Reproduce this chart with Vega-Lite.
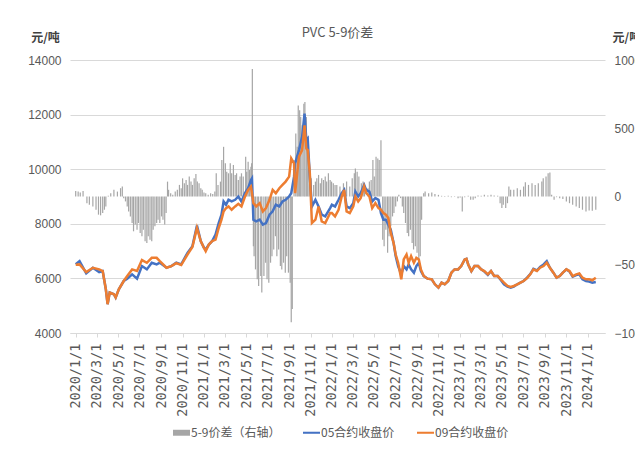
{
  "$schema": "https://vega.github.io/schema/vega-lite/v6.json",
  "width": 535,
  "height": 273,
  "autosize": "none",
  "padding": {"left": 70, "top": 60, "right": 30, "bottom": 126},
  "background": "#ffffff",
  "title": {"text": "PVC 5-9价差", "font": "Noto Sans CJK SC", "fontSize": 13, "fontWeight": "normal", "color": "#595959", "anchor": "middle", "offset": -9},
  "config": {
    "view": {"stroke": null},
    "axis": {"labelColor": "#595959", "gridColor": "#d9d9d9", "domainColor": "#d9d9d9", "tickColor": "#d9d9d9"},
    "axisX": {"labelOverlap": false},
    "axisTemporal": {"labelOverlap": false}
  },
  "encoding": {
    "x": {
      "field": "d", "type": "temporal",
      "scale": {"type": "utc", "domain": [{"year": 2019, "month": 12, "date": 30, "utc": true}, {"year": 2024, "month": 2, "date": 5, "utc": true}]},
      "axis": {
        "title": null, "format": "%Y/%-m/%-d", "labelAngle": 270, "labelFont": "DejaVu Sans Mono", "labelFontSize": 13.5,
        "labelColor": "#595959", "labelPadding": 6, "tickSize": 4, "grid": false, "labelOverlap": false, "labelFlush": false, "labelBound": false,
        "values": [
          {"year": 2020, "month": 1, "date": 1, "utc": true}, {"year": 2020, "month": 3, "date": 1, "utc": true},
          {"year": 2020, "month": 5, "date": 1, "utc": true}, {"year": 2020, "month": 7, "date": 1, "utc": true},
          {"year": 2020, "month": 9, "date": 1, "utc": true}, {"year": 2020, "month": 11, "date": 1, "utc": true},
          {"year": 2021, "month": 1, "date": 1, "utc": true}, {"year": 2021, "month": 3, "date": 1, "utc": true},
          {"year": 2021, "month": 5, "date": 1, "utc": true}, {"year": 2021, "month": 7, "date": 1, "utc": true},
          {"year": 2021, "month": 9, "date": 1, "utc": true}, {"year": 2021, "month": 11, "date": 1, "utc": true},
          {"year": 2022, "month": 1, "date": 1, "utc": true}, {"year": 2022, "month": 3, "date": 1, "utc": true},
          {"year": 2022, "month": 5, "date": 1, "utc": true}, {"year": 2022, "month": 7, "date": 1, "utc": true},
          {"year": 2022, "month": 9, "date": 1, "utc": true}, {"year": 2022, "month": 11, "date": 1, "utc": true},
          {"year": 2023, "month": 1, "date": 1, "utc": true}, {"year": 2023, "month": 3, "date": 1, "utc": true},
          {"year": 2023, "month": 5, "date": 1, "utc": true}, {"year": 2023, "month": 7, "date": 1, "utc": true},
          {"year": 2023, "month": 9, "date": 1, "utc": true}, {"year": 2023, "month": 11, "date": 1, "utc": true},
          {"year": 2024, "month": 1, "date": 1, "utc": true}
        ]
      }
    }
  },
  "datasets": {
    "spread": [
      {"d": "2020-01-01", "s": 40}, {"d": "2020-01-08", "s": 36}, {"d": "2020-01-14", "s": 29}, {"d": "2020-01-22", "s": 40},
      {"d": "2020-02-02", "s": -49}, {"d": "2020-02-09", "s": -61}, {"d": "2020-02-19", "s": -73}, {"d": "2020-02-28", "s": -97},
      {"d": "2020-03-06", "s": -133}, {"d": "2020-03-12", "s": -138}, {"d": "2020-03-18", "s": -121}, {"d": "2020-03-23", "s": -97},
      {"d": "2020-03-27", "s": -73}, {"d": "2020-04-03", "s": 5}, {"d": "2020-04-10", "s": 24}, {"d": "2020-04-19", "s": 49},
      {"d": "2020-04-29", "s": 36}, {"d": "2020-05-08", "s": 61}, {"d": "2020-05-13", "s": 73}, {"d": "2020-05-17", "s": -12},
      {"d": "2020-05-22", "s": -36}, {"d": "2020-05-27", "s": -73}, {"d": "2020-05-31", "s": -110}, {"d": "2020-06-05", "s": -146},
      {"d": "2020-06-10", "s": -194}, {"d": "2020-06-14", "s": -255}, {"d": "2020-06-19", "s": -206}, {"d": "2020-06-24", "s": -243},
      {"d": "2020-06-28", "s": -194}, {"d": "2020-07-03", "s": -267}, {"d": "2020-07-08", "s": -291}, {"d": "2020-07-12", "s": -243},
      {"d": "2020-07-17", "s": -328}, {"d": "2020-07-22", "s": -340}, {"d": "2020-07-26", "s": -291}, {"d": "2020-07-31", "s": -316},
      {"d": "2020-08-05", "s": -328}, {"d": "2020-08-09", "s": -243}, {"d": "2020-08-14", "s": -218}, {"d": "2020-08-19", "s": -194},
      {"d": "2020-08-23", "s": -170}, {"d": "2020-08-28", "s": -194}, {"d": "2020-09-02", "s": -146}, {"d": "2020-09-06", "s": -170},
      {"d": "2020-09-11", "s": -206}, {"d": "2020-09-15", "s": -121}, {"d": "2020-09-19", "s": 109}, {"d": "2020-09-22", "s": 49},
      {"d": "2020-09-28", "s": 24}, {"d": "2020-10-04", "s": 12}, {"d": "2020-10-11", "s": 36}, {"d": "2020-10-17", "s": 49},
      {"d": "2020-10-23", "s": 85}, {"d": "2020-10-28", "s": 61}, {"d": "2020-11-01", "s": 133}, {"d": "2020-11-06", "s": 97},
      {"d": "2020-11-11", "s": 121}, {"d": "2020-11-15", "s": 85}, {"d": "2020-11-20", "s": 146}, {"d": "2020-11-25", "s": 109},
      {"d": "2020-11-29", "s": 85}, {"d": "2020-12-04", "s": 133}, {"d": "2020-12-09", "s": 165}, {"d": "2020-12-13", "s": 109},
      {"d": "2020-12-18", "s": 97}, {"d": "2020-12-23", "s": 61}, {"d": "2020-12-27", "s": 49}, {"d": "2021-01-01", "s": 29},
      {"d": "2021-01-06", "s": 24}, {"d": "2021-01-13", "s": 12}, {"d": "2021-01-20", "s": 24}, {"d": "2021-01-26", "s": 19},
      {"d": "2021-02-01", "s": 36}, {"d": "2021-02-05", "s": 170}, {"d": "2021-02-10", "s": 85}, {"d": "2021-02-17", "s": 109},
      {"d": "2021-02-21", "s": 267}, {"d": "2021-02-26", "s": 364}, {"d": "2021-03-03", "s": 243}, {"d": "2021-03-07", "s": 182},
      {"d": "2021-03-12", "s": 170}, {"d": "2021-03-17", "s": 243}, {"d": "2021-03-21", "s": 170}, {"d": "2021-03-26", "s": 231},
      {"d": "2021-03-31", "s": 158}, {"d": "2021-04-04", "s": 170}, {"d": "2021-04-09", "s": 121}, {"d": "2021-04-14", "s": 146},
      {"d": "2021-04-18", "s": 170}, {"d": "2021-04-23", "s": 146}, {"d": "2021-04-30", "s": 291}, {"d": "2021-05-03", "s": 182},
      {"d": "2021-05-07", "s": 255}, {"d": "2021-05-11", "s": 194}, {"d": "2021-05-15", "s": 218}, {"d": "2021-05-17", "s": 243},
      {"d": "2021-05-19", "s": 934}, {"d": "2021-05-22", "s": -364}, {"d": "2021-05-24", "s": -437}, {"d": "2021-05-28", "s": -534},
      {"d": "2021-06-02", "s": -607}, {"d": "2021-06-06", "s": -655}, {"d": "2021-06-12", "s": -582}, {"d": "2021-06-15", "s": -704},
      {"d": "2021-06-21", "s": -582}, {"d": "2021-06-26", "s": -485}, {"d": "2021-06-30", "s": -607}, {"d": "2021-07-05", "s": -631},
      {"d": "2021-07-10", "s": -485}, {"d": "2021-07-14", "s": -437}, {"d": "2021-07-19", "s": -388}, {"d": "2021-07-24", "s": -291},
      {"d": "2021-07-28", "s": -437}, {"d": "2021-08-02", "s": -388}, {"d": "2021-08-07", "s": -510}, {"d": "2021-08-11", "s": -534},
      {"d": "2021-08-16", "s": -485}, {"d": "2021-08-21", "s": -558}, {"d": "2021-08-25", "s": -437}, {"d": "2021-08-30", "s": -558},
      {"d": "2021-09-04", "s": -631}, {"d": "2021-09-07", "s": -922}, {"d": "2021-09-10", "s": -825}, {"d": "2021-09-15", "s": 267},
      {"d": "2021-09-20", "s": 461}, {"d": "2021-09-24", "s": 364}, {"d": "2021-09-27", "s": 667}, {"d": "2021-10-01", "s": 631},
      {"d": "2021-10-04", "s": 582}, {"d": "2021-10-08", "s": 522}, {"d": "2021-10-13", "s": 680}, {"d": "2021-10-16", "s": 692},
      {"d": "2021-10-20", "s": 582}, {"d": "2021-10-24", "s": 388}, {"d": "2021-10-28", "s": 194}, {"d": "2021-11-03", "s": 133},
      {"d": "2021-11-10", "s": 85}, {"d": "2021-11-15", "s": 109}, {"d": "2021-11-19", "s": 133}, {"d": "2021-11-24", "s": 158},
      {"d": "2021-11-29", "s": 97}, {"d": "2021-12-03", "s": 133}, {"d": "2021-12-08", "s": 121}, {"d": "2021-12-13", "s": 146},
      {"d": "2021-12-17", "s": 109}, {"d": "2021-12-22", "s": 170}, {"d": "2021-12-27", "s": 121}, {"d": "2021-12-31", "s": 109},
      {"d": "2022-01-05", "s": 97}, {"d": "2022-01-10", "s": 85}, {"d": "2022-01-15", "s": 85}, {"d": "2022-01-24", "s": 73},
      {"d": "2022-02-03", "s": 97}, {"d": "2022-02-12", "s": 109}, {"d": "2022-02-21", "s": 73}, {"d": "2022-02-28", "s": 133},
      {"d": "2022-03-06", "s": 170}, {"d": "2022-03-09", "s": 206}, {"d": "2022-03-14", "s": 182}, {"d": "2022-03-19", "s": 146},
      {"d": "2022-03-26", "s": 97}, {"d": "2022-03-31", "s": 109}, {"d": "2022-04-04", "s": 97}, {"d": "2022-04-14", "s": 61},
      {"d": "2022-04-18", "s": 109}, {"d": "2022-04-23", "s": 121}, {"d": "2022-04-28", "s": 267}, {"d": "2022-05-02", "s": 146},
      {"d": "2022-05-07", "s": 291}, {"d": "2022-05-12", "s": 279}, {"d": "2022-05-16", "s": 267}, {"d": "2022-05-21", "s": 413},
      {"d": "2022-05-26", "s": -316}, {"d": "2022-05-30", "s": -364}, {"d": "2022-06-04", "s": -243}, {"d": "2022-06-09", "s": -413},
      {"d": "2022-06-13", "s": -291}, {"d": "2022-06-18", "s": -218}, {"d": "2022-06-23", "s": -146}, {"d": "2022-06-27", "s": -121},
      {"d": "2022-07-02", "s": -73}, {"d": "2022-07-07", "s": -36}, {"d": "2022-07-11", "s": 12}, {"d": "2022-07-16", "s": -12},
      {"d": "2022-07-21", "s": -73}, {"d": "2022-07-25", "s": -121}, {"d": "2022-07-30", "s": -194}, {"d": "2022-08-04", "s": -267},
      {"d": "2022-08-08", "s": -291}, {"d": "2022-08-13", "s": -243}, {"d": "2022-08-18", "s": -340}, {"d": "2022-08-22", "s": -388},
      {"d": "2022-08-27", "s": -364}, {"d": "2022-09-01", "s": -413}, {"d": "2022-09-06", "s": -485}, {"d": "2022-09-10", "s": -437},
      {"d": "2022-09-14", "s": -170}, {"d": "2022-09-20", "s": 24}, {"d": "2022-09-24", "s": 36}, {"d": "2022-10-04", "s": 24},
      {"d": "2022-10-13", "s": 29}, {"d": "2022-10-22", "s": 19}, {"d": "2022-11-01", "s": 12}, {"d": "2022-11-10", "s": 5},
      {"d": "2022-11-19", "s": 3}, {"d": "2022-11-29", "s": 5}, {"d": "2022-12-08", "s": -5}, {"d": "2022-12-17", "s": -3},
      {"d": "2022-12-27", "s": -12}, {"d": "2023-01-02", "s": -8}, {"d": "2023-01-08", "s": -109}, {"d": "2023-01-15", "s": -5},
      {"d": "2023-01-25", "s": 5}, {"d": "2023-02-01", "s": -24}, {"d": "2023-02-08", "s": -24}, {"d": "2023-02-14", "s": -12},
      {"d": "2023-02-22", "s": 7}, {"d": "2023-03-03", "s": 5}, {"d": "2023-03-12", "s": 12}, {"d": "2023-03-22", "s": 7},
      {"d": "2023-03-31", "s": 12}, {"d": "2023-04-09", "s": 7}, {"d": "2023-04-19", "s": 5}, {"d": "2023-04-26", "s": -49},
      {"d": "2023-05-01", "s": -85}, {"d": "2023-05-05", "s": -61}, {"d": "2023-05-12", "s": -85}, {"d": "2023-05-17", "s": -49},
      {"d": "2023-05-21", "s": 73}, {"d": "2023-05-26", "s": 49}, {"d": "2023-06-04", "s": 49}, {"d": "2023-06-14", "s": 61},
      {"d": "2023-06-23", "s": 49}, {"d": "2023-07-02", "s": 73}, {"d": "2023-07-07", "s": 104}, {"d": "2023-07-16", "s": 85},
      {"d": "2023-07-26", "s": 97}, {"d": "2023-08-04", "s": 85}, {"d": "2023-08-13", "s": 97}, {"d": "2023-08-23", "s": 109},
      {"d": "2023-08-27", "s": 133}, {"d": "2023-09-04", "s": 146}, {"d": "2023-09-10", "s": 170}, {"d": "2023-09-15", "s": 175},
      {"d": "2023-09-20", "s": 12}, {"d": "2023-09-27", "s": -24}, {"d": "2023-10-04", "s": -5}, {"d": "2023-10-13", "s": -12},
      {"d": "2023-10-22", "s": -19}, {"d": "2023-11-01", "s": -36}, {"d": "2023-11-10", "s": -49}, {"d": "2023-11-19", "s": -61},
      {"d": "2023-11-29", "s": -73}, {"d": "2023-12-08", "s": -85}, {"d": "2023-12-17", "s": -97}, {"d": "2023-12-27", "s": -109},
      {"d": "2024-01-05", "s": -102}, {"d": "2024-01-14", "s": -104}, {"d": "2024-01-24", "s": -97}
    ],
    "prices": [
      {"d": "2020-01-01", "05合约收盘价": 6520, "09合约收盘价": 6500},
      {"d": "2020-01-12", "05合约收盘价": 6633, "09合约收盘价": 6512},
      {"d": "2020-01-31", "05合约收盘价": 6184, "09合约收盘价": 6233},
      {"d": "2020-02-19", "05合约收盘价": 6391, "09合约收盘价": 6391},
      {"d": "2020-03-08", "05合约收盘价": 6233, "09合约收盘价": 6330},
      {"d": "2020-03-18", "05合约收盘价": 6269, "09合约收盘价": 6269},
      {"d": "2020-03-27", "05合约收盘价": 5602, "09合约收盘价": 5602},
      {"d": "2020-04-01", "05合约收盘价": 5056, "09合约收盘价": 5056},
      {"d": "2020-04-07", "05合约收盘价": 5481, "09合约收盘价": 5481},
      {"d": "2020-04-19", "05合约收盘价": 5420, "09合约收盘价": 5420},
      {"d": "2020-04-24", "05合约收盘价": 5299, "09合约收盘价": 5299},
      {"d": "2020-05-03", "05合约收盘价": 5602, "09合约收盘价": 5602},
      {"d": "2020-05-17", "05合约收盘价": 5905, "09合约收盘价": 5905},
      {"d": "2020-05-27", "05合约收盘价": 5990, "09合约收盘价": 6087},
      {"d": "2020-06-10", "05合约收盘价": 6148, "09合约收盘价": 6330},
      {"d": "2020-06-24", "05合约收盘价": 5990, "09合约收盘价": 6269},
      {"d": "2020-07-08", "05合约收盘价": 6451, "09合约收盘价": 6670},
      {"d": "2020-07-22", "05合约收盘价": 6330, "09合约收盘价": 6573},
      {"d": "2020-08-05", "05合约收盘价": 6573, "09合约收盘价": 6755},
      {"d": "2020-08-19", "05合约收盘价": 6512, "09合约收盘价": 6755},
      {"d": "2020-08-28", "05合约收盘价": 6573, "09合约收盘价": 6633},
      {"d": "2020-09-16", "05合约收盘价": 6391, "09合约收盘价": 6391},
      {"d": "2020-09-30", "05合约收盘价": 6451, "09合约收盘价": 6451},
      {"d": "2020-10-14", "05合约收盘价": 6573, "09合约收盘价": 6560},
      {"d": "2020-10-28", "05合约收盘价": 6512, "09合约收盘价": 6490},
      {"d": "2020-11-15", "05合约收盘价": 6937, "09合约收盘价": 6876},
      {"d": "2020-11-29", "05合约收盘价": 7180, "09合约收盘价": 7150},
      {"d": "2020-12-12", "05合约收盘价": 7940, "09合约收盘价": 7847},
      {"d": "2020-12-23", "05合约收盘价": 7360, "09合约收盘价": 7360},
      {"d": "2021-01-01", "05合约收盘价": 7119, "09合约收盘价": 7119},
      {"d": "2021-01-06", "05合约收盘价": 7058, "09合约收盘价": 6998},
      {"d": "2021-01-15", "05合约收盘价": 7240, "09合约收盘价": 7240},
      {"d": "2021-01-24", "05合约收盘价": 7362, "09合约收盘价": 7362},
      {"d": "2021-02-03", "05合约收盘价": 7604, "09合约收盘价": 7422},
      {"d": "2021-02-12", "05合约收盘价": 8029, "09合约收盘价": 7847},
      {"d": "2021-02-20", "05合约收盘价": 8333, "09合约收盘价": 8150},
      {"d": "2021-02-26", "05合约收盘价": 8818, "09合约收盘价": 8454},
      {"d": "2021-03-05", "05合约收盘价": 8697, "09合约收盘价": 8575},
      {"d": "2021-03-12", "05合约收盘价": 8879, "09合约收盘价": 8636},
      {"d": "2021-03-21", "05合约收盘价": 8818, "09合约收盘价": 8515},
      {"d": "2021-03-31", "05合约收盘价": 8879, "09合约收盘价": 8636},
      {"d": "2021-04-09", "05合约收盘价": 9000, "09合约收盘价": 8733},
      {"d": "2021-04-18", "05合约收盘价": 8818, "09合约收盘价": 8636},
      {"d": "2021-04-28", "05合约收盘价": 9121, "09合约收盘价": 9000},
      {"d": "2021-05-07", "05合约收盘价": 9303, "09合约收盘价": 9243},
      {"d": "2021-05-15", "05合约收盘价": 9607, "09合约收盘价": 9364},
      {"d": "2021-05-18", "05合约收盘价": 9667, "09合约收盘价": 9121},
      {"d": "2021-05-22", "05合约收盘价": 8150, "09合约收盘价": 8757},
      {"d": "2021-05-30", "05合约收盘价": 8090, "09合约收盘价": 8636},
      {"d": "2021-06-09", "05合约收盘价": 8150, "09合约收盘价": 8757},
      {"d": "2021-06-18", "05合约收盘价": 7968, "09合约收盘价": 8454},
      {"d": "2021-06-27", "05合约收盘价": 8029, "09合约收盘价": 8575},
      {"d": "2021-07-07", "05合约收盘价": 8333, "09合约收盘价": 8879},
      {"d": "2021-07-16", "05合约收盘价": 8454, "09合约收盘价": 9243},
      {"d": "2021-07-25", "05合约收盘价": 8697, "09合约收盘价": 9121},
      {"d": "2021-08-04", "05合约收盘价": 8636, "09合约收盘价": 9303},
      {"d": "2021-08-13", "05合约收盘价": 8818, "09合约收盘价": 9425},
      {"d": "2021-08-22", "05合约收盘价": 8879, "09合约收盘价": 9546},
      {"d": "2021-09-01", "05合约收盘价": 9000, "09合约收盘价": 9728},
      {"d": "2021-09-07", "05合约收盘价": 9121, "09合约收盘价": 10396},
      {"d": "2021-09-15", "05合约收盘价": 9728, "09合约收盘价": 10214},
      {"d": "2021-09-18", "05合约收盘价": 10214, "09合约收盘价": 9121},
      {"d": "2021-09-29", "05合约收盘价": 10699, "09合约收盘价": 10456},
      {"d": "2021-10-08", "05合约收盘价": 11184, "09合约收盘价": 10699},
      {"d": "2021-10-15", "05合约收盘价": 12034, "09合约收盘价": 11609},
      {"d": "2021-10-20", "05合约收盘价": 11063, "09合约收盘价": 10760},
      {"d": "2021-10-24", "05合约收盘价": 11124, "09合约收盘价": 10699},
      {"d": "2021-10-30", "05合约收盘价": 9728, "09合约收盘价": 9850},
      {"d": "2021-11-05", "05合约收盘价": 8636, "09合约收盘价": 8029},
      {"d": "2021-11-15", "05合约收盘价": 8879, "09合约收盘价": 8150},
      {"d": "2021-11-24", "05合约收盘价": 8636, "09合约收盘价": 8636},
      {"d": "2021-12-03", "05合约收盘价": 8333, "09合约收盘价": 8090},
      {"d": "2021-12-13", "05合约收盘价": 8272, "09合约收盘价": 8029},
      {"d": "2021-12-27", "05合约收盘价": 8575, "09合约收盘价": 8393},
      {"d": "2022-01-01", "05合约收盘价": 8697, "09合约收盘价": 8393},
      {"d": "2022-01-10", "05合约收盘价": 8636, "09合约收盘价": 8272},
      {"d": "2022-01-20", "05合约收盘价": 8879, "09合约收盘价": 8515},
      {"d": "2022-01-29", "05合约收盘价": 9121, "09合约收盘价": 9000},
      {"d": "2022-02-05", "05合约收盘价": 9243, "09合约收盘价": 9243},
      {"d": "2022-02-12", "05合约收盘价": 8636, "09合约收盘价": 8454},
      {"d": "2022-02-21", "05合约收盘价": 8575, "09合约收盘价": 8393},
      {"d": "2022-03-03", "05合约收盘价": 8757, "09合约收盘价": 8636},
      {"d": "2022-03-09", "05合约收盘价": 9182, "09合约收盘价": 9000},
      {"d": "2022-03-17", "05合约收盘价": 9000, "09合约收盘价": 8818},
      {"d": "2022-03-24", "05合约收盘价": 9121, "09合约收盘价": 8939},
      {"d": "2022-04-03", "05合约收盘价": 9425, "09合约收盘价": 9364},
      {"d": "2022-04-09", "05合约收盘价": 9243, "09合约收盘价": 9121},
      {"d": "2022-04-18", "05合约收盘价": 9182, "09合约收盘价": 9000},
      {"d": "2022-04-26", "05合约收盘价": 8818, "09合约收盘价": 8575},
      {"d": "2022-05-05", "05合约收盘价": 8939, "09合约收盘价": 8757},
      {"d": "2022-05-14", "05合约收盘价": 8879, "09合约收盘价": 8575},
      {"d": "2022-05-21", "05合约收盘价": 8393, "09合约收盘价": 8515},
      {"d": "2022-05-28", "05合约收盘价": 8150, "09合约收盘价": 8393},
      {"d": "2022-06-04", "05合约收盘价": 8150, "09合约收盘价": 8333},
      {"d": "2022-06-11", "05合约收盘价": 7968, "09合约收盘价": 8211},
      {"d": "2022-06-18", "05合约收盘价": 7786, "09合约收盘价": 7665},
      {"d": "2022-06-26", "05合约收盘价": 7301, "09合约收盘价": 7301},
      {"d": "2022-07-02", "05合约收盘价": 6816, "09合约收盘价": 6876},
      {"d": "2022-07-09", "05合约收盘价": 6451, "09合约收盘价": 6573},
      {"d": "2022-07-18", "05合约收盘价": 6148, "09合约收盘价": 5966},
      {"d": "2022-07-25", "05合约收盘价": 6451, "09合约收盘价": 6694},
      {"d": "2022-08-02", "05合约收盘价": 6330, "09合约收盘价": 6876},
      {"d": "2022-08-08", "05合约收盘价": 6512, "09合约收盘价": 6573},
      {"d": "2022-08-15", "05合约收盘价": 6330, "09合约收盘价": 6816},
      {"d": "2022-08-23", "05合约收盘价": 6209, "09合约收盘价": 6573},
      {"d": "2022-08-30", "05合约收盘价": 6451, "09合约收盘价": 6755},
      {"d": "2022-09-06", "05合约收盘价": 6573, "09合约收盘价": 6694},
      {"d": "2022-09-12", "05合约收盘价": 6269, "09合约收盘价": 6330},
      {"d": "2022-09-20", "05合约收盘价": 6087, "09合约收盘价": 6087},
      {"d": "2022-10-01", "05合约收盘价": 5990, "09合约收盘价": 5990},
      {"d": "2022-10-13", "05合约收盘价": 5966, "09合约收盘价": 5966},
      {"d": "2022-10-22", "05合约收盘价": 5784, "09合约收盘价": 5784},
      {"d": "2022-11-01", "05合约收盘价": 5662, "09合约收盘价": 5662},
      {"d": "2022-11-10", "05合约收盘价": 5845, "09合约收盘价": 5845},
      {"d": "2022-11-19", "05合约收盘价": 5784, "09合约收盘价": 5784},
      {"d": "2022-11-29", "05合约收盘价": 5905, "09合约收盘价": 5905},
      {"d": "2022-12-08", "05合约收盘价": 6209, "09合约收盘价": 6209},
      {"d": "2022-12-17", "05合约收盘价": 6330, "09合约收盘价": 6330},
      {"d": "2022-12-27", "05合约收盘价": 6330, "09合约收盘价": 6330},
      {"d": "2023-01-05", "05合约收盘价": 6451, "09合约收盘价": 6451},
      {"d": "2023-01-15", "05合约收盘价": 6694, "09合约收盘价": 6694},
      {"d": "2023-01-20", "05合约收盘价": 6718, "09合约收盘价": 6718},
      {"d": "2023-01-25", "05合约收盘价": 6512, "09合约收盘价": 6512},
      {"d": "2023-02-03", "05合约收盘价": 6269, "09合约收盘价": 6269},
      {"d": "2023-02-12", "05合约收盘价": 6451, "09合约收盘价": 6451},
      {"d": "2023-02-22", "05合约收盘价": 6451, "09合约收盘价": 6451},
      {"d": "2023-03-03", "05合约收盘价": 6330, "09合约收盘价": 6330},
      {"d": "2023-03-12", "05合约收盘价": 6250, "09合约收盘价": 6269},
      {"d": "2023-03-22", "05合约收盘价": 6130, "09合约收盘价": 6148},
      {"d": "2023-03-31", "05合约收盘价": 6269, "09合约收盘价": 6269},
      {"d": "2023-04-09", "05合约收盘价": 6087, "09合约收盘价": 6087},
      {"d": "2023-04-19", "05合约收盘价": 6087, "09合约收盘价": 6087},
      {"d": "2023-04-28", "05合约收盘价": 5940, "09合约收盘价": 5966},
      {"d": "2023-05-07", "05合约收盘价": 5784, "09合约收盘价": 5845},
      {"d": "2023-05-17", "05合约收盘价": 5700, "09合约收盘价": 5723},
      {"d": "2023-05-26", "05合约收盘价": 5660, "09合约收盘价": 5687},
      {"d": "2023-06-04", "05合约收盘价": 5700, "09合约收盘价": 5723},
      {"d": "2023-06-14", "05合约收盘价": 5784, "09合约收盘价": 5784},
      {"d": "2023-06-23", "05合约收盘价": 5845, "09合约收盘价": 5845},
      {"d": "2023-07-02", "05合约收盘价": 5905, "09合约收盘价": 5905},
      {"d": "2023-07-12", "05合约收盘价": 6027, "09合约收盘价": 6010},
      {"d": "2023-07-21", "05合约收盘价": 6160, "09合约收盘价": 6148},
      {"d": "2023-07-30", "05合约收盘价": 6350, "09合约收盘价": 6330},
      {"d": "2023-08-09", "05合约收盘价": 6290, "09合约收盘价": 6269},
      {"d": "2023-08-18", "05合约收盘价": 6420, "09合约收盘价": 6391},
      {"d": "2023-08-28", "05合约收盘价": 6512, "09合约收盘价": 6451},
      {"d": "2023-09-06", "05合约收盘价": 6633, "09合约收盘价": 6573},
      {"d": "2023-09-15", "05合约收盘价": 6391, "09合约收盘价": 6391},
      {"d": "2023-09-25", "05合约收盘价": 6209, "09合约收盘价": 6209},
      {"d": "2023-10-04", "05合约收盘价": 6027, "09合约收盘价": 6027},
      {"d": "2023-10-13", "05合约收盘价": 6087, "09合约收盘价": 6087},
      {"d": "2023-10-22", "05合约收盘价": 6209, "09合约收盘价": 6209},
      {"d": "2023-11-01", "05合约收盘价": 6330, "09合约收盘价": 6330},
      {"d": "2023-11-10", "05合约收盘价": 6250, "09合约收盘价": 6269},
      {"d": "2023-11-19", "05合约收盘价": 6060, "09合约收盘价": 6087},
      {"d": "2023-11-29", "05合约收盘价": 6120, "09合约收盘价": 6148},
      {"d": "2023-12-08", "05合约收盘价": 6150, "09合约收盘价": 6184},
      {"d": "2023-12-17", "05合约收盘价": 5966, "09合约收盘价": 6027},
      {"d": "2023-12-27", "05合约收盘价": 5905, "09合约收盘价": 5966},
      {"d": "2024-01-05", "05合约收盘价": 5881, "09合约收盘价": 5966},
      {"d": "2024-01-14", "05合约收盘价": 5845, "09合约收盘价": 5930},
      {"d": "2024-01-24", "05合约收盘价": 5869, "09合约收盘价": 6027}
    ]
  },
  "layer": [
    {
      "data": {"name": "spread"},
      "mark": {"type": "bar", "width": 1.2, "color": "#a6a6a6"},
      "encoding": {
        "y": {
          "field": "s", "type": "quantitative",
          "scale": {"domain": [-1000, 1000], "nice": false, "zero": false},
          "axis": {
            "orient": "right", "values": [-1000, -500, 0, 500, 1000], "format": "d", "grid": false, "domain": false, "ticks": false,
            "labelPadding": 9, "labelFont": "Liberation Sans", "labelFontSize": 12, "labelColor": "#595959",
            "title": "元/吨", "titleAngle": 0, "titleX": 7, "titleY": -19, "titleAlign": "left", "titleBaseline": "alphabetic",
            "titleFont": "Noto Sans CJK SC", "titleFontSize": 12, "titleFontWeight": "bold", "titleColor": "#404040"
          }
        },
        "color": {
          "datum": "5-9价差（右轴）", "type": "nominal",
          "scale": {"domain": ["5-9价差（右轴）", "05合约收盘价", "09合约收盘价"], "range": ["#a6a6a6", "#4472c4", "#ed7d31"]},
          "legend": {
            "orient": "none", "legendX": 103, "legendY": 364, "direction": "horizontal", "title": null, "padding": 0,
            "labelFont": "Noto Sans CJK SC", "labelFontSize": 12, "labelColor": "#595959", "labelOffset": 1,
            "symbolSize": 289, "columnPadding": 22,
            "encode": {"symbols": {"update": {
              "shape": {"signal": "datum.value === '5-9价差（右轴）' ? 'M-1,-0.35H1V0.35H-1Z' : 'M-1,-0.12H1V0.12H-1Z'"},
              "fill": {"scale": "color", "field": "value"},
              "stroke": {"value": "transparent"}, "strokeWidth": {"value": 0}, "opacity": {"value": 1}
            }}}
          }
        }
      }
    },
    {
      "data": {"name": "prices"},
      "transform": [{"fold": ["05合约收盘价", "09合约收盘价"], "as": ["series", "price"]}],
      "mark": {"type": "line", "strokeWidth": 2.5, "interpolate": "linear"},
      "encoding": {
        "y": {
          "field": "price", "type": "quantitative",
          "scale": {"domain": [4000, 14000], "nice": false, "zero": false},
          "axis": {
            "orient": "left", "values": [4000, 6000, 8000, 10000, 12000, 14000], "format": "d", "grid": true, "domain": false, "ticks": false,
            "labelPadding": 9, "labelFont": "Liberation Sans", "labelFontSize": 12, "labelColor": "#595959",
            "title": "元/吨", "titleAngle": 0, "titleX": -25, "titleY": -19, "titleAlign": "center", "titleBaseline": "alphabetic",
            "titleFont": "Noto Sans CJK SC", "titleFontSize": 12, "titleFontWeight": "bold", "titleColor": "#404040"
          }
        },
        "color": {
          "field": "series", "type": "nominal",
          "scale": {"domain": ["5-9价差（右轴）", "05合约收盘价", "09合约收盘价"], "range": ["#a6a6a6", "#4472c4", "#ed7d31"]},
          "legend": {
            "orient": "none", "legendX": 103, "legendY": 364, "direction": "horizontal", "title": null, "padding": 0,
            "labelFont": "Noto Sans CJK SC", "labelFontSize": 12, "labelColor": "#595959", "labelOffset": 1,
            "symbolSize": 289, "columnPadding": 22,
            "encode": {"symbols": {"update": {
              "shape": {"signal": "datum.value === '5-9价差（右轴）' ? 'M-1,-0.35H1V0.35H-1Z' : 'M-1,-0.12H1V0.12H-1Z'"},
              "fill": {"scale": "color", "field": "value"},
              "stroke": {"value": "transparent"}, "strokeWidth": {"value": 0}, "opacity": {"value": 1}
            }}}
          }
        },
        "order": {"field": "series"}
      }
    }
  ],
  "resolve": {"scale": {"y": "independent"}}
}
